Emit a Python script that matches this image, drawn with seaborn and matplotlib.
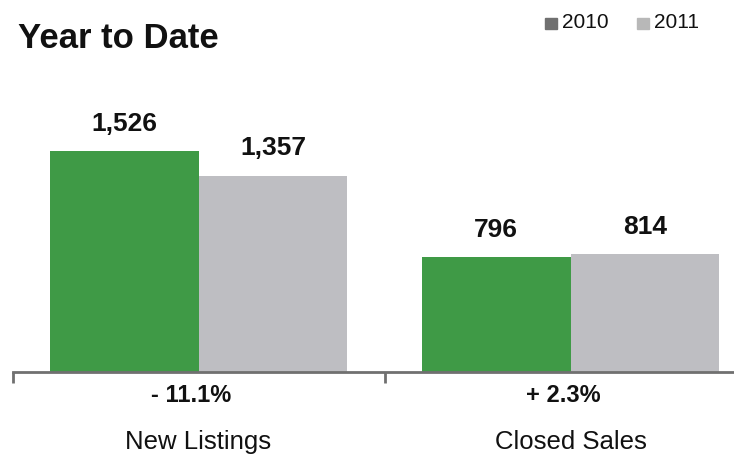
import pandas as pd
import seaborn as sns
import matplotlib.pyplot as plt
from matplotlib.patches import Rectangle

# chart data
categories = ['New Listings', 'Closed Sales']
years = ['2010', '2011']
values_2010 = [1526, 796]
values_2011 = [1357, 814]
pct_changes = ['- 11.1%', '+ 2.3%']

bar_colors = ['#3f9a46', '#bebec2']
legend_colors = ['#707070', '#b8b8b8']

df = pd.DataFrame({
    'category': categories * 2,
    'year': [years[0]] * 2 + [years[1]] * 2,
    'value': values_2010 + values_2011,
})

sns.set_style('white')
plt.rcParams['font.family'] = ['Liberation Sans', 'DejaVu Sans']

W, H = 734, 454
fig = plt.figure(figsize=(W / 100, H / 100), dpi=100)
# axes in pixel terms: baseline at y=372, left edge ~12px, two groups 372px apart
ax = fig.add_axes([12.5 / W, (H - 372) / H, 744 / W, 312 / H])

sns.barplot(data=df, x='category', y='value', hue='year', palette=bar_colors,
            width=0.8, saturation=1, ax=ax, legend=False, linewidth=0)

ax.set_xlim(-0.5, 1.5)
ax.set_ylim(0, 2156)
ax.set_xlabel('')
ax.set_ylabel('')
ax.set_yticks([])
ax.set_xticks([])
ax.set_xticks([-0.5, 0.5, 1.5], minor=True)
ax.tick_params(axis='x', which='minor', direction='out', length=8, width=2,
               color='#707070', bottom=True, labelbottom=False)
for side in ['top', 'right', 'left']:
    ax.spines[side].set_visible(False)
ax.spines['bottom'].set_color('#707070')
ax.spines['bottom'].set_linewidth(2)

for cont in ax.containers:
    ax.bar_label(cont, labels=[f'{v:,.0f}' for v in cont.datavalues],
                 padding=11, fontsize=19, fontweight='bold', color='#111111')

trans = ax.get_xaxis_transform()
for i, (cat, pct) in enumerate(zip(categories, pct_changes)):
    ax.text(i - 0.02, -24 / 312, pct, transform=trans, ha='center', va='center',
            fontsize=17, fontweight='bold', color='#111111')
    ax.text(i, -70 / 312, cat, transform=trans, ha='center', va='center',
            fontsize=18.5, color='#111111')

fig.text(18 / W, 1 - 48 / H, 'Year to Date', ha='left', va='baseline',
         fontsize=25, fontweight='bold', color='#111111',
         family=['Liberation Sans Narrow', 'Liberation Sans', 'DejaVu Sans'])

# legend
legend_x = [545, 637]
for x0, yr, c in zip(legend_x, years, legend_colors):
    fig.patches.append(Rectangle((x0 / W, 1 - 29 / H), 12 / W, 11 / H,
                                 transform=fig.transFigure, color=c))
    fig.text((x0 + 17) / W, 1 - 23 / H, yr, ha='left', va='center',
             fontsize=15, color='#111111')

fig.savefig('out.png', dpi=100)
